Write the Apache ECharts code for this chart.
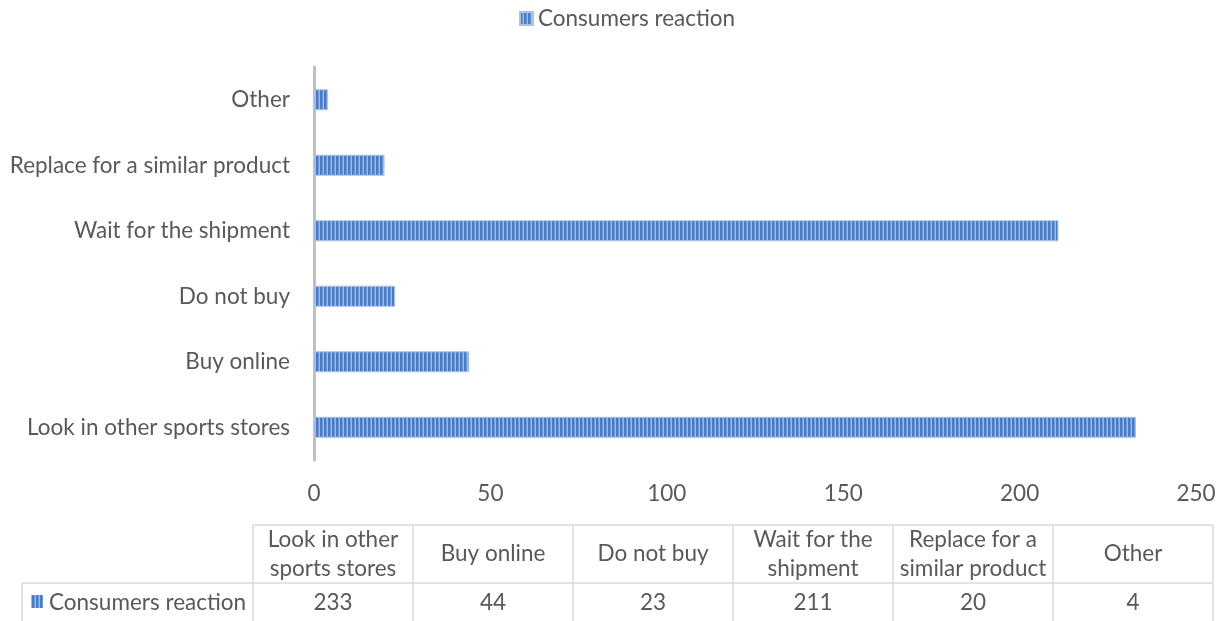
<!DOCTYPE html>
<html><head><meta charset="utf-8">
<script src="https://cdn.jsdelivr.net/npm/echarts@6/dist/echarts.min.js"></script>
<style>html,body{margin:0;padding:0;background:#fff}#c{width:1228px;height:621px}</style>
</head><body><div id="c"></div>
<script>
var categories = ['Look in other sports stores', 'Buy online', 'Do not buy', 'Wait for the shipment', 'Replace for a similar product', 'Other'];
var tableHeaders = ['Look in other\nsports stores', 'Buy online', 'Do not buy', 'Wait for the\nshipment', 'Replace for a\nsimilar product', 'Other'];
var values = [233, 44, 23, 211, 20, 4];
var seriesName = 'Consumers reaction';
var xTicks = [0, 50, 100, 150, 200, 250];

var FONT = 'Lato';
var FS = 22.5;
var TXT = '#595959';

function makePattern() {
  var cv = document.createElement('canvas');
  cv.width = 4; cv.height = 4;
  var ctx = cv.getContext('2d');
  ctx.fillStyle = '#9dbbe4'; ctx.fillRect(0, 0, 4, 4);
  ctx.fillStyle = '#4a7cc6'; ctx.fillRect(0, 0, 2, 4);
  ctx.fillStyle = '#6f97d4'; ctx.fillRect(2, 0, 1, 4);
  return cv;
}
var pat = { image: makePattern(), repeat: 'repeat' };

var chart = echarts.init(document.getElementById('c'));

var tblLeft = 253, colW = 160, hdrTop = 525, rowTop = 583, rowBot = 621, lblLeft = 22;
var g = [];
var border = { stroke: '#d9d9d9', lineWidth: 1.5 };
function line(x1, y1, x2, y2) { g.push({ type: 'line', shape: { x1: x1, y1: y1, x2: x2, y2: y2 }, style: border, silent: true }); }
var tblRight = tblLeft + colW * categories.length;
line(tblLeft, hdrTop, tblRight, hdrTop);
line(lblLeft, rowTop, tblRight, rowTop);
line(lblLeft, rowTop, lblLeft, rowBot);
for (var i = 0; i <= categories.length; i++) line(tblLeft + colW * i, hdrTop, tblLeft + colW * i, rowBot);
var font = FS + 'px "' + FONT + '"';
for (var j = 0; j < categories.length; j++) {
  var cx = tblLeft + colW * j + colW / 2;
  g.push({ type: 'text', x: cx, y: (hdrTop + rowTop) / 2, style: { text: tableHeaders[j], font: font, fill: TXT, align: 'center', verticalAlign: 'middle', lineHeight: 29 }, silent: true });
  g.push({ type: 'text', x: cx, y: (rowTop + rowBot) / 2 + 1, style: { text: String(values[j]), font: font, fill: TXT, align: 'center', verticalAlign: 'middle' }, silent: true });
}
g.push({ type: 'rect', shape: { x: 31, y: 595, width: 12, height: 13 }, style: { fill: pat }, silent: true });
g.push({ type: 'text', x: 49, y: (rowTop + rowBot) / 2 + 1, style: { text: seriesName, font: font, fill: TXT, align: 'left', verticalAlign: 'middle' }, silent: true });

chart.setOption({
  animation: false,
  textStyle: { fontFamily: FONT },
  legend: {
    top: 2, left: 514, itemWidth: 13, itemHeight: 13, itemGap: 6,
    icon: 'rect',
    textStyle: { fontSize: FS, color: TXT, fontFamily: FONT },
    data: [seriesName]
  },
  grid: { left: 314, right: 32, top: 67, height: 393, containLabel: false },
  xAxis: {
    type: 'value', min: xTicks[0], max: xTicks[xTicks.length - 1], interval: xTicks[1] - xTicks[0],
    axisLine: { show: false }, axisTick: { show: false }, splitLine: { show: false },
    axisLabel: { fontSize: FS, color: TXT, margin: 22, fontFamily: FONT }
  },
  yAxis: {
    type: 'category', data: categories,
    axisLine: { show: true, lineStyle: { color: '#c0c0c0', width: 3 } },
    axisTick: { show: false },
    axisLabel: { fontSize: FS, color: TXT, margin: 24, fontFamily: FONT }
  },
  series: [{
    name: seriesName, type: 'bar', data: values, barWidth: 21,
    itemStyle: { color: pat, borderColor: '#a9c3e8', borderWidth: 1 }
  }],
  graphic: g
});
</script></body></html>
